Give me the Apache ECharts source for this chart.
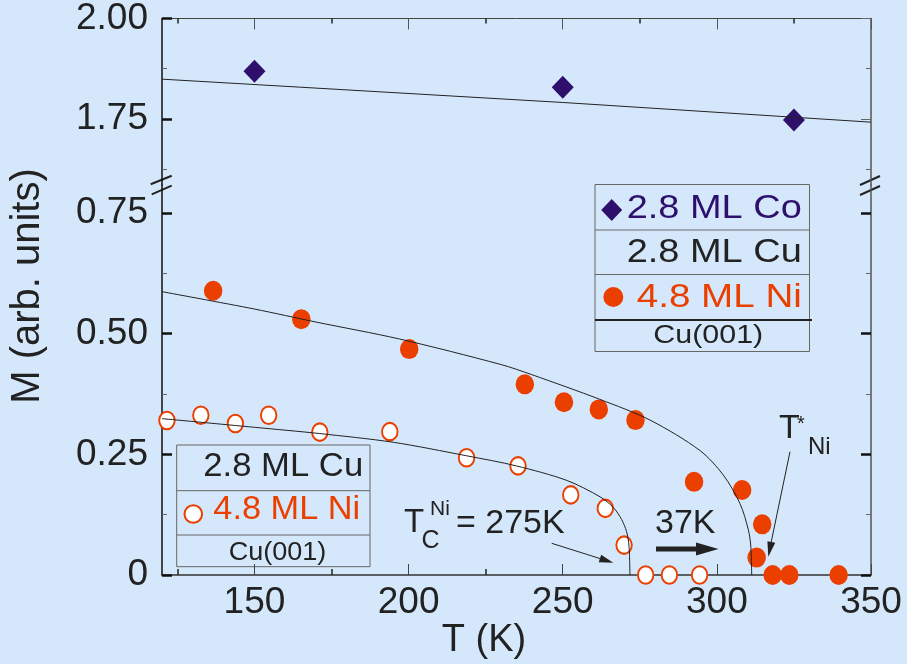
<!DOCTYPE html>
<html>
<head>
<meta charset="utf-8">
<script src="https://cdn.jsdelivr.net/npm/echarts@6/dist/echarts.min.js"></script>
<style>
  html, body { margin: 0; padding: 0; background: #d5e8fb; }
  #chart { width: 907px; height: 664px; }
</style>
</head>
<body>
<div id="chart"></div>
<script>
// 2.8 ML Co reference layer (diamonds) and its fit
const tempCo = [150, 250, 325];
const magCo = [1.869, 1.829, 1.7475];
const fitCoT = [120, 165, 250, 350];
const fitCoM = [1.849, 1.829, 1.791, 1.742];

// 4.8 ML Ni covered by Cu and Co (filled circles) and its fit
const tempNiCo = [136.6, 165.2, 200.2, 237.7, 250.4, 261.7, 273.6, 292.6, 308.2, 314.7, 312.9, 318.1, 323.5, 339.5];
const magNiCo = [0.589, 0.530, 0.468, 0.395, 0.358, 0.343, 0.321, 0.193, 0.176, 0.105, 0.036, 0, 0, 0];
const fitNiCoT = [120, 150, 170, 197, 230, 240, 262, 278.3, 294.5, 302.1, 307.5, 310.2, 311.0, 311.3];
const fitNiCoM = [0.587, 0.551, 0.524, 0.489, 0.436, 0.415, 0.364, 0.321, 0.258, 0.207, 0.148, 0.094, 0.06, 0];

// 4.8 ML Ni covered by Cu only (open circles) and its fit
const tempNiCu = [121.6, 132.6, 143.8, 154.6, 171.2, 193.9, 218.8, 235.5, 252.6, 263.8, 269.9, 276.9, 284.6, 294.4];
const magNiCu = [0.320, 0.331, 0.314, 0.331, 0.296, 0.297, 0.243, 0.226, 0.166, 0.138, 0.062, 0, 0, 0];
const fitNiCuT = [120, 150, 171.2, 195, 218.8, 235, 251.3, 262.1, 266.4, 269.1, 270.7, 271.5, 271.8];
const fitNiCuM = [0.324, 0.306, 0.293, 0.275, 0.247, 0.226, 0.196, 0.162, 0.140, 0.115, 0.09, 0.06, 0];

// Axis ticks and labels
const xMajor = [150, 200, 250, 300, 350];
const xMinor = [125, 175, 225, 275, 325];
const yUpperMajor = [1.75, 2.00];
const yUpperMinor = [1.625, 1.875];
const yLowerMajor = [0, 0.25, 0.50, 0.75];
const yLowerMinor = [0.125, 0.375, 0.625];

const X_MIN = 120, X_MAX = 350;
const UP_MIN = 1.5856, UP_MAX = 2.0;
const LO_MIN = 0, LO_MAX = 0.808;

const PURPLE = '#2e0f6c';
const ORANGE = '#eb3f00';
const INK = '#222';
const SANS = '"Liberation Sans", Arial, sans-serif';

const zip = (a, b) => a.map((v, i) => [v, b[i]]);

function xAxisDef(grid, position, ticks, len, color, width, line, labels) {
  return {
    type: 'value', gridIndex: grid, position: position, min: X_MIN, max: X_MAX,
    axisLine: line ? { show: true, lineStyle: line } : { show: false },
    axisTick: { show: true, inside: true, length: len, customValues: ticks,
      lineStyle: { color: color, width: width } },
    axisLabel: labels ? { show: true, customValues: ticks, margin: 9,
      fontFamily: SANS, fontSize: 37, color: INK } : { show: false },
    splitLine: { show: false }
  };
}

function yAxisDef(grid, position, min, max, ticks, len, color, width, line, labels) {
  return {
    type: 'value', gridIndex: grid, position: position, min: min, max: max,
    axisLine: line ? { show: true, lineStyle: line } : { show: false },
    axisTick: { show: true, inside: true, length: len, customValues: ticks,
      lineStyle: { color: color, width: width } },
    axisLabel: labels ? { show: true, customValues: ticks, margin: 14,
      fontFamily: SANS, fontSize: 37, color: INK,
      formatter: v => (v === 0 ? '0' : Number(v).toFixed(2)) } : { show: false },
    splitLine: { show: false }
  };
}

function arrowHead(x1, y1, x2, y2, len, half) {
  const dx = x2 - x1, dy = y2 - y1;
  const d = Math.sqrt(dx * dx + dy * dy);
  const ux = dx / d, uy = dy / d;
  const bx = x2 - ux * len, by = y2 - uy * len;
  return [[x2, y2], [bx - uy * half, by + ux * half], [bx + uy * half, by - ux * half]];
}

function label(x, y, text, size, color, align, scaleX) {
  return {
    type: 'text', x: x, y: y, scaleX: scaleX || 1, silent: true,
    style: { text: text, fontFamily: SANS, fontSize: size, fill: color,
      align: align || 'left', verticalAlign: 'middle' }
  };
}

function seg(x1, y1, x2, y2, color, width) {
  return { type: 'line', silent: true, shape: { x1: x1, y1: y1, x2: x2, y2: y2 },
    style: { stroke: color, lineWidth: width } };
}

const chart = echarts.init(document.getElementById('chart'), null, { renderer: 'canvas' });

const graphics = [
  // axis titles
  label(484, 641, 'T (K)', 38, INK, 'center'),
  { type: 'text', x: 28, y: 286, rotation: Math.PI / 2, silent: true,
    style: { text: 'M (arb. units)', fontFamily: SANS, fontSize: 40, fill: INK,
      align: 'center', verticalAlign: 'middle' } },

  // axis break marks
  seg(150.7, 184.3, 171.7, 175.7, INK, 2),
  seg(151.7, 194.3, 171.7, 185.7, INK, 2),
  seg(860, 185, 880, 176, INK, 2),
  seg(860, 195, 880, 186, INK, 2),

  // legend box for the Co-covered film
  { type: 'rect', silent: true, shape: { x: 595, y: 184.5, width: 214.5, height: 167 },
    style: { fill: 'none', stroke: '#666', lineWidth: 1 } },
  seg(595, 230, 809.5, 230, '#666', 1),
  seg(595, 274.5, 809.5, 274.5, '#666', 1),
  seg(595, 320, 812, 320, INK, 2),
  { type: 'polygon', silent: true,
    shape: { points: [[611.7, 199], [622.2, 210], [611.7, 221], [601.2, 210]] },
    style: { fill: PURPLE } },
  label(626.7, 208.5, '2.8 ML Co', 33, PURPLE, 'left', 1.15),
  label(626.7, 252.5, '2.8 ML Cu', 33, INK, 'left', 1.15),
  { type: 'circle', silent: true, shape: { cx: 613.3, cy: 297, r: 10 }, style: { fill: ORANGE } },
  label(636.7, 298.3, '4.8 ML Ni', 33, ORANGE, 'left', 1.17),
  label(708.3, 336, 'Cu(001)', 26, INK, 'center', 1.17),

  // legend box for the Cu-covered film
  { type: 'rect', silent: true, shape: { x: 176.7, y: 445, width: 193.3, height: 121.7 },
    style: { fill: 'none', stroke: '#666', lineWidth: 1 } },
  seg(176.7, 490.7, 370, 490.7, '#666', 1),
  seg(176.7, 535, 370, 535, '#666', 1),
  label(203.3, 466.7, '2.8 ML Cu', 33, INK, 'left', 1.05),
  { type: 'circle', silent: true, shape: { cx: 193.3, cy: 514, r: 8.8 },
    style: { fill: '#fff', stroke: ORANGE, lineWidth: 2 } },
  label(213.3, 510, '4.8 ML Ni', 33, ORANGE, 'left', 1.04),
  label(277.5, 552.5, 'Cu(001)', 26, INK, 'center', 1.04),

  // Curie temperature annotation
  label(404, 523.3, 'T', 33, INK),
  label(421.5, 541, 'C', 25, INK),
  label(430, 509, 'Ni', 21, INK),
  label(456, 523.3, '= 275K', 34, INK),
  seg(551.7, 543.3, 602, 559.2, INK, 1),
  { type: 'polygon', silent: true, shape: { points: arrowHead(551.7, 543.3, 613.3, 562.7, 14, 4) },
    style: { fill: INK } },

  // shift annotation
  label(655, 523.3, '37K', 34, INK),
  seg(656, 549, 698, 549, INK, 5),
  { type: 'polygon', silent: true, shape: { points: [[718.5, 549], [696, 542.5], [696, 555.5]] },
    style: { fill: INK } },

  // T* annotation
  label(779, 428.8, 'T', 34, INK),
  label(797, 424, '*', 20, INK),
  label(808, 447.8, 'Ni', 24, INK),
  seg(790, 451.7, 771, 543, INK, 1),
  { type: 'polygon', silent: true, shape: { points: arrowHead(790, 451.7, 768.3, 556.7, 15, 4) },
    style: { fill: INK } }
];

const fitLine = { color: INK, width: 1 };

const option = {
  backgroundColor: '#d5e8fb',
  animation: false,
  grid: [
    { left: 162, right: 36, top: 18, height: 167 },
    { left: 162, right: 36, top: 185, height: 390 }
  ],
  xAxis: [
    xAxisDef(0, 'top', xMajor, 11, '#555', 1, { color: '#444', width: 1 }, false),
    xAxisDef(0, 'top', xMinor, 5, INK, 1.5, null, false),
    xAxisDef(1, 'bottom', xMajor, 11, '#444', 1, { color: '#333', width: 1.5 }, true),
    xAxisDef(1, 'bottom', xMinor, 6, INK, 1.5, null, false)
  ],
  yAxis: [
    yAxisDef(0, 'left', UP_MIN, UP_MAX, yUpperMajor, 10, '#111', 2.5, { color: '#111', width: 1.5 }, true),
    yAxisDef(0, 'left', UP_MIN, UP_MAX, yUpperMinor, 5, '#666', 1, null, false),
    yAxisDef(0, 'right', UP_MIN, UP_MAX, yUpperMajor, 10, '#666', 1, { color: '#555', width: 1.5 }, false),
    yAxisDef(0, 'right', UP_MIN, UP_MAX, yUpperMinor, 5, '#666', 1, null, false),
    yAxisDef(1, 'left', LO_MIN, LO_MAX, yLowerMajor, 10, '#111', 2.5, { color: '#111', width: 1.5 }, true),
    yAxisDef(1, 'left', LO_MIN, LO_MAX, yLowerMinor, 5, '#666', 1, null, false),
    yAxisDef(1, 'right', LO_MIN, LO_MAX, yLowerMajor, 10, '#111', 2.5, { color: '#555', width: 1.5 }, false),
    yAxisDef(1, 'right', LO_MIN, LO_MAX, yLowerMinor, 5, '#666', 1, null, false)
  ],
  series: [
    { type: 'scatter', name: '2.8 ML Co', xAxisIndex: 0, yAxisIndex: 0,
      data: zip(tempCo, magCo), symbol: 'diamond', symbolSize: [22, 23],
      itemStyle: { color: PURPLE, opacity: 1 }, z: 3, clip: false },
    { type: 'line', name: 'Co fit', xAxisIndex: 0, yAxisIndex: 0,
      data: zip(fitCoT, fitCoM), symbol: 'none',
      lineStyle: fitLine, z: 5, silent: true },
    { type: 'scatter', name: '4.8 ML Ni / Cu / Co', xAxisIndex: 2, yAxisIndex: 4,
      data: zip(tempNiCo, magNiCo), symbol: 'circle', symbolSize: [18.5, 20],
      itemStyle: { color: ORANGE, opacity: 1 }, z: 3, clip: false },
    { type: 'scatter', name: '4.8 ML Ni / Cu', xAxisIndex: 2, yAxisIndex: 4,
      data: zip(tempNiCu, magNiCu), symbol: 'circle', symbolSize: [15.5, 17.5],
      itemStyle: { color: '#fff', borderColor: ORANGE, borderWidth: 2, opacity: 1 }, z: 3, clip: false },
    { type: 'line', name: 'Ni/Cu/Co fit', xAxisIndex: 2, yAxisIndex: 4,
      data: zip(fitNiCoT, fitNiCoM), symbol: 'none', smooth: 0.3,
      lineStyle: fitLine, z: 5, silent: true },
    { type: 'line', name: 'Ni/Cu fit', xAxisIndex: 2, yAxisIndex: 4,
      data: zip(fitNiCuT, fitNiCuM), symbol: 'none', smooth: 0.3,
      lineStyle: fitLine, z: 5, silent: true }
  ],
  graphic: { elements: graphics }
};

chart.setOption(option);
</script>
</body>
</html>
